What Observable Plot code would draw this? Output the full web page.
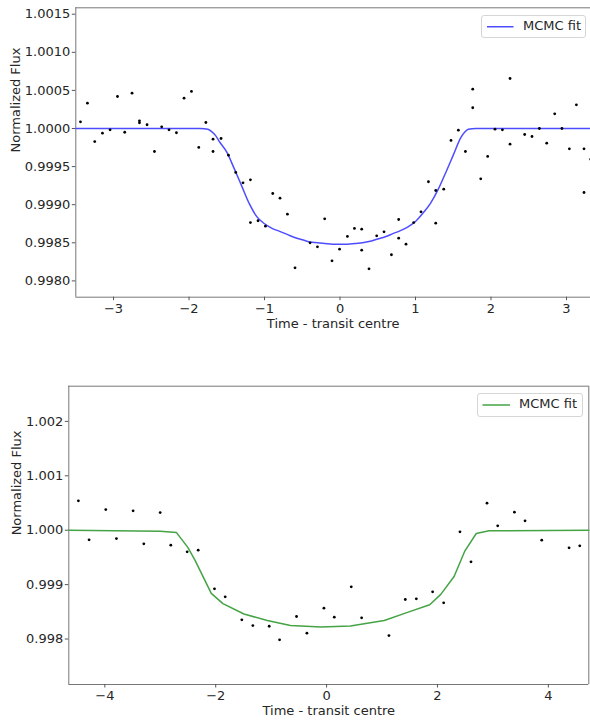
<!DOCTYPE html>
<html>
<head>
<meta charset="utf-8">
<script src="https://cdn.jsdelivr.net/npm/d3@7"></script>
<script src="https://cdn.jsdelivr.net/npm/@observablehq/plot@0.6"></script>
<style>
  html, body { margin: 0; padding: 0; background: #fff; }
  #wrap { position: relative; width: 590px; height: 721px; overflow: hidden; font-family: "DejaVu Sans", sans-serif; color: #262626; }
  .panel { position: absolute; left: 0; }
  .legend { position: absolute; box-sizing: border-box; border: 1px solid #d6d6d6; border-radius: 3px; background: #fff; font-size: 13px; color: #262626; }
  .legend svg { position: absolute; left: 0; top: 0; }
  .legend span { position: absolute; white-space: nowrap; }
</style>
</head>
<body>
<div id="wrap"></div>
<script>
// ---------- Top panel data ----------
const topTime = [-3.438,-3.346,-3.249,-3.147,-3.046,-2.948,-2.852,-2.755,-2.657,-2.657,-2.556,-2.458,-2.362,-2.265,-2.167,-2.066,-1.968,-1.871,-1.777,-1.682,-1.682,-1.576,-1.478,-1.381,-1.285,-1.187,-1.187,-1.086,-0.988,-0.891,-0.795,-0.697,-0.596,-0.397,-0.299,-0.203,-0.106,-0.006,0.098,0.191,0.287,0.287,0.384,0.486,0.583,0.681,0.777,0.777,0.874,0.976,1.073,1.171,1.268,1.268,1.374,1.470,1.568,1.661,1.758,1.758,1.864,1.956,2.053,2.151,2.252,2.252,2.446,2.543,2.641,2.738,2.844,2.940,3.038,3.131,3.232,3.232,3.320];
const topFlux = [1.000088,1.000332,0.999829,0.999938,0.999983,1.000420,0.999951,1.000463,1.000101,1.000075,1.000049,0.999698,1.000022,0.999983,0.999944,1.000398,1.000486,0.999751,1.000079,0.999860,0.999698,0.999869,0.999650,0.999423,0.999287,0.999327,0.998766,0.998789,0.998718,0.999147,0.999085,0.998875,0.998172,0.998500,0.998447,0.998815,0.998264,0.998416,0.998583,0.998688,0.998679,0.998403,0.998159,0.998592,0.998644,0.998343,0.998806,0.998560,0.998482,0.998766,0.998907,0.999301,0.999186,0.998757,0.999204,0.999843,0.999978,0.999698,1.000516,1.000272,0.999340,0.999633,0.999991,0.999983,1.000656,0.999794,0.999921,0.999895,1.000000,0.999807,1.000193,1.000000,0.999733,1.000311,0.999733,0.999160,0.999597];
const topFitTime = [-3.5,-1.85,-1.75,-1.7,-1.65,-1.6,-1.5,-1.4,-1.3,-1.2,-1.1,-1.0,-0.9,-0.8,-0.7,-0.6,-0.5,-0.4,-0.3,-0.2,-0.1,0,0.1,0.2,0.3,0.4,0.5,0.6,0.7,0.8,0.9,1.0,1.1,1.2,1.3,1.4,1.5,1.6,1.65,1.7,1.8,3.32];
const topFitFlux = [1.0,1.0,0.99999,0.99996,0.99991,0.99983,0.99969,0.99947,0.99924,0.99901,0.99884,0.99875,0.99869,0.99865,0.99861,0.99857,0.99854,0.99851,0.99850,0.99849,0.99848,0.99848,0.99848,0.99849,0.99850,0.99852,0.99855,0.99858,0.99862,0.99866,0.99871,0.99878,0.99889,0.99902,0.99920,0.99942,0.99965,0.99988,0.99995,0.99999,1.0,1.0];
const topXTicks = [-3,-2,-1,0,1,2,3];
const topYTicks = [0.998,0.9985,0.999,0.9995,1.0,1.0005,1.001,1.0015];
const topXDomain = [-3.5, 3.318];
const topYDomain = [0.997786, 1.001584];

// ---------- Bottom panel data ----------
const bottomTime = [-4.477,-4.284,-3.983,-3.791,-3.490,-3.297,-3.002,-2.810,-2.515,-2.316,-2.022,-1.829,-1.529,-1.330,-1.035,-0.848,-0.542,-0.355,-0.048,0.139,0.445,0.632,1.125,1.420,1.619,1.913,2.112,2.406,2.605,2.894,3.087,3.388,3.580,3.881,4.374,4.567];
const bottomFlux = [1.000540,0.999824,1.000380,0.999847,1.000356,0.999750,1.000325,0.999724,0.999603,0.999633,0.998923,0.998776,0.998353,0.998248,0.998235,0.997985,0.998414,0.998107,0.998566,0.998401,0.998960,0.998390,0.998064,0.998726,0.998739,0.998868,0.998665,0.999971,0.999419,1.000496,1.000081,1.000331,1.000173,0.999816,0.999676,0.999713];
const bottomFitTime = [-4.65,-3.0,-2.71,-2.50,-2.37,-2.08,-1.87,-1.49,-1.07,-0.65,-0.1,0.43,1.04,1.46,1.86,2.06,2.30,2.49,2.70,2.93,4.73];
const bottomFitFlux = [1.0,0.99998,0.99996,0.99968,0.99944,0.99884,0.99865,0.99846,0.99834,0.99825,0.99822,0.99824,0.99834,0.99849,0.99863,0.99882,0.99915,0.99961,0.99994,0.99999,1.0];
const bottomXTicks = [-4,-2,0,2,4];
const bottomYTicks = [0.998,0.999,1.0,1.001,1.002];
const bottomXDomain = [-4.65, 4.73];
const bottomYDomain = [0.997164, 1.002647];

const seriesLabel = "MCMC fit";
const xLabel = "Time - transit centre";
const yLabel = "Normalized Flux";
const topColor = "#4d4dff";
const bottomColor = "#45a345";

const toRows = (ts, fs) => ts.map((t, i) => ({t, f: fs[i]}));
const fmtInt = d3.format("d");
const FS = 13;

function panel({data, fit, xDomain, yDomain, xTicks, yTicks, yFmt, color, width, height, mt, mb, ml, mr, rightSpine, yLabelDx, xLabelDy, curve}) {
  const marks = [
    Plot.ruleY(yDomain, {stroke: "#777", strokeWidth: 1}),
    Plot.ruleX(rightSpine ? xDomain : [xDomain[0]], {stroke: "#777", strokeWidth: 1}),
    Plot.axisX({ticks: xTicks, tickFormat: fmtInt, tickSize: 3.5, tickPadding: 3, stroke: "#555", label: null, fontSize: FS}),
    Plot.axisY({ticks: yTicks, tickFormat: d3.format(yFmt), tickSize: 3.5, tickPadding: 2, stroke: "#555", label: null, fontSize: FS}),
    Plot.line(fit, {x: "t", y: "f", stroke: color, strokeWidth: 1.5, curve}),
    Plot.dot(data, {x: "t", y: "f", r: 1.4, fill: "black", stroke: "none"}),
    Plot.text([yLabel], {frameAnchor: "left", dx: yLabelDx, rotate: -90, text: d => d, fontSize: FS, fill: "#262626"}),
    Plot.text([xLabel], {frameAnchor: "bottom", dy: xLabelDy, text: d => d, fontSize: FS, fill: "#262626"})
  ];
  return Plot.plot({
    width, height,
    marginTop: mt, marginBottom: mb, marginLeft: ml, marginRight: mr,
    x: {domain: xDomain},
    y: {domain: yDomain},
    style: {fontFamily: "DejaVu Sans, sans-serif", fontSize: FS + "px", color: "#262626", background: "transparent", overflow: "visible"},
    marks
  });
}

function legend(parent, {left, top, width, height, color, x1, x2, textX}) {
  const div = document.createElement("div");
  div.className = "legend";
  Object.assign(div.style, {left: left + "px", top: top + "px", width: width + "px", height: height + "px"});
  const ns = "http://www.w3.org/2000/svg";
  const svg = document.createElementNS(ns, "svg");
  svg.setAttribute("width", width); svg.setAttribute("height", height);
  const ln = document.createElementNS(ns, "line");
  ln.setAttribute("x1", x1); ln.setAttribute("x2", x2);
  ln.setAttribute("y1", height / 2 - 1); ln.setAttribute("y2", height / 2 - 1);
  ln.setAttribute("stroke", color); ln.setAttribute("stroke-width", 1.5);
  svg.appendChild(ln);
  div.appendChild(svg);
  const sp = document.createElement("span");
  sp.textContent = seriesLabel;
  Object.assign(sp.style, {left: textX + "px", top: (height / 2 - 9.5) + "px", lineHeight: "16px"});
  div.appendChild(sp);
  parent.appendChild(div);
}

const wrap = document.getElementById("wrap");

const top1 = panel({
  data: toRows(topTime, topFlux), fit: toRows(topFitTime, topFitFlux),
  xDomain: topXDomain, yDomain: topYDomain, xTicks: topXTicks, yTicks: topYTicks, yFmt: ".4f",
  color: topColor, width: 590, height: 335, mt: 7.3, mb: 38.3, ml: 75.3, mr: 0,
  rightSpine: false, yLabelDx: -60, xLabelDy: 31, curve: "monotone-x"
});
top1.classList.add("panel"); top1.style.top = "0px";
wrap.appendChild(top1);

const bot = panel({
  data: toRows(bottomTime, bottomFlux), fit: toRows(bottomFitTime, bottomFitFlux),
  xDomain: bottomXDomain, yDomain: bottomYDomain, xTicks: bottomXTicks, yTicks: bottomYTicks, yFmt: ".3f",
  color: bottomColor, width: 590, height: 361, mt: 25.7, mb: 37, ml: 68.3, mr: 1.7,
  rightSpine: true, yLabelDx: -52, xLabelDy: 30.5, curve: "linear"
});
bot.classList.add("panel"); bot.style.top = "360px";
wrap.appendChild(bot);

legend(wrap, {left: 481, top: 14.5, width: 105, height: 23.5, color: topColor, x1: 5, x2: 31.5, textX: 41});
legend(wrap, {left: 476.5, top: 392.5, width: 106, height: 24, color: bottomColor, x1: 4.5, x2: 32, textX: 41.5});
</script>
</body>
</html>
